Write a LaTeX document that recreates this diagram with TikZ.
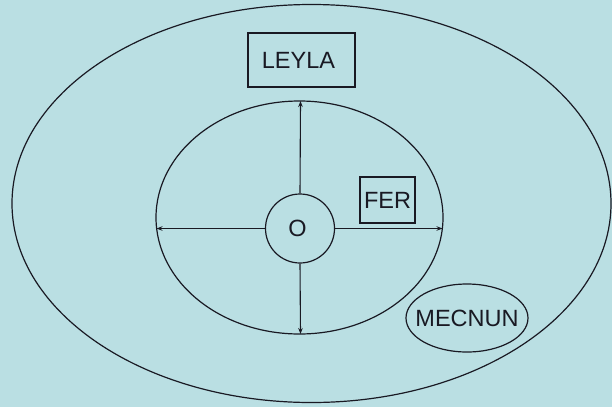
\documentclass[tikz,border=0pt]{standalone}
\usepackage{fontspec}
\setmainfont{Liberation Sans}
\usetikzlibrary{shapes.geometric,arrows.meta}
\definecolor{bg}{RGB}{186,223,227}
\definecolor{ink}{RGB}{25,25,35}
\begin{document}
\begin{tikzpicture}[x=1pt,y=-1pt,line width=1.2pt,
  every node/.style={font=\fontsize{23.5}{27}\selectfont, text=ink},
  ring/.style={draw=ink, ellipse, inner sep=0pt},
  labelbox/.style={draw=ink, rectangle, inner sep=0pt},
  arr/.style={draw=ink, line width=1.1pt, -{Stealth[length=6pt,width=4.5pt]}}]
\fill[bg] (0,0) rectangle (612,407);
\useasboundingbox (0,0) rectangle (612,407);
\node[ring, minimum width=599pt, minimum height=398pt] (outer) at (311.5,203.5) {};
\node[ring, minimum width=287pt, minimum height=233pt] (inner) at (299.5,217.5) {};
\node[draw=ink, circle, minimum size=69pt, inner sep=0pt] (o) at (300,228.5) {\makebox[0pt]{\hspace{-5pt}O}};
\node[labelbox, minimum width=107pt, minimum height=54pt] (leyla) at (301.5,60) {\hspace{-6pt}LEYLA};
\node[labelbox, minimum width=55pt, minimum height=46pt] (fer) at (387.5,200) {FER};
\node[ring, minimum width=122pt, minimum height=68pt, label={center:MECNUN}] (mecnun) at (467,318) {};
\coordinate (it) at (300.5,101);
\coordinate (ib) at (300.5,334);
\coordinate (il) at (156.5,228.5);
\coordinate (ir) at (442.5,228.5);
\draw[arr] (o.north) -- (it);
\draw[arr] (o.south) -- (ib);
\draw[arr] (o.west) -- (il);
\draw[arr] (o.east) -- (ir);
\end{tikzpicture}
\end{document}
